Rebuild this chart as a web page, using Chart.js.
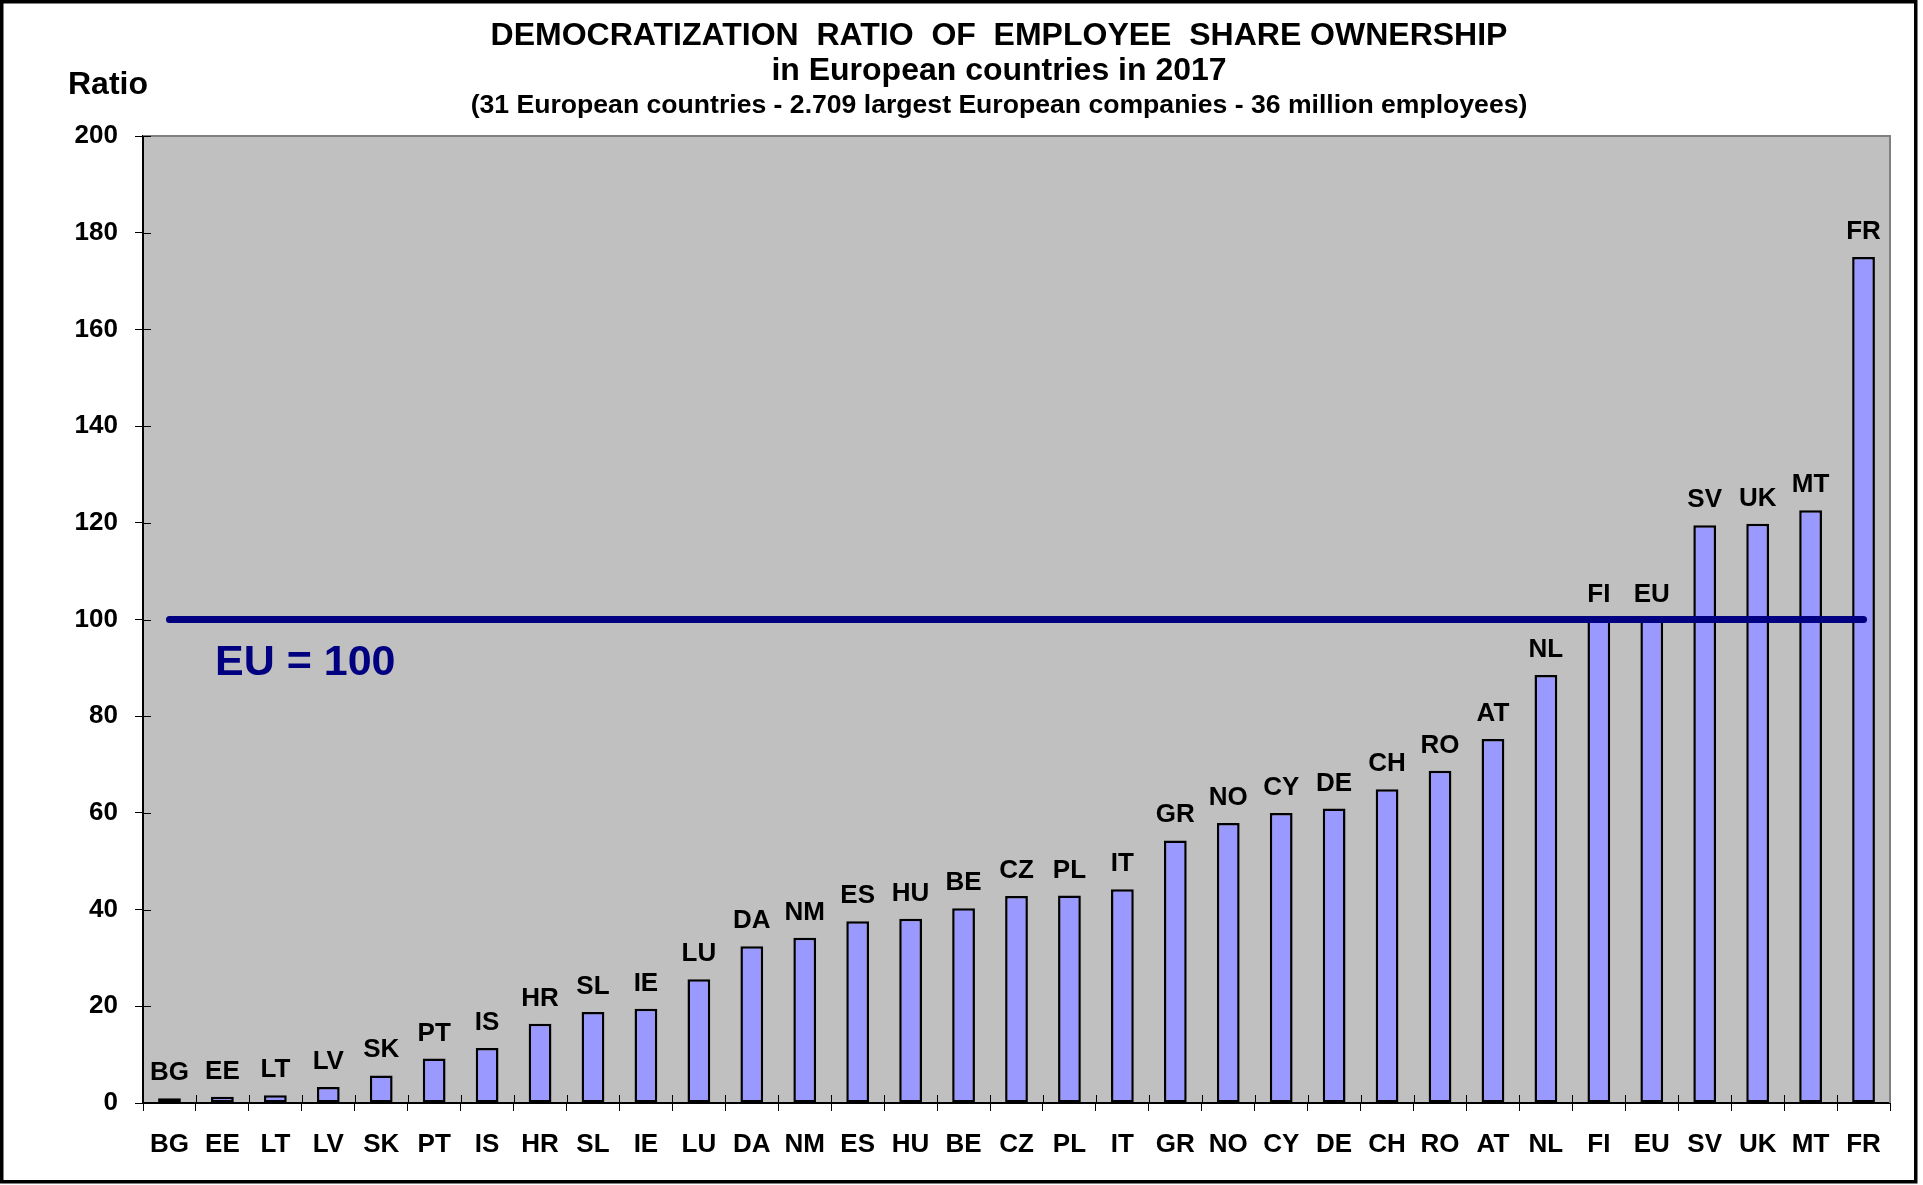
<!DOCTYPE html>
<html>
<head>
<meta charset="utf-8">
<title>Democratization ratio of employee share ownership 2017</title>
<script src="https://cdn.jsdelivr.net/npm/chart.js@4.4.1/dist/chart.umd.min.js"></script>
<style>
  html, body { margin: 0; padding: 0; background: #ffffff; overflow: hidden; }
  canvas { display: block; }
</style>
</head>
<body>
<canvas id="chart" width="1923" height="1185"></canvas>
<script>
// ---- data ----
const countries = ['BG','EE','LT','LV','SK','PT','IS','HR','SL','IE','LU','DA','NM','ES','HU','BE','CZ','PL','IT','GR','NO','CY','DE','CH','RO','AT','NL','FI','EU','SV','UK','MT','FR'];
const ratios = [1.0, 1.3, 1.6, 3.3, 5.7, 9.2, 11.4, 16.4, 18.8, 19.5, 25.6, 32.4, 34.2, 37.6, 38.1, 40.3, 42.8, 42.9, 44.2, 54.3, 57.9, 60.0, 60.9, 64.9, 68.7, 75.3, 88.5, 100, 100, 119.5, 119.8, 122.6, 175.0];
const euLevel = 100;
const yTicks = [0, 20, 40, 60, 80, 100, 120, 140, 160, 180, 200];
const titleLines = ['DEMOCRATIZATION  RATIO  OF  EMPLOYEE  SHARE OWNERSHIP', 'in European countries in 2017'];
const subtitleText = '(31 European countries - 2.709 largest European companies - 36 million employees)';
const yAxisTitle = 'Ratio';
const euLabel = 'EU = 100';

const FONT = "'Liberation Sans', Arial, Helvetica, sans-serif";

const decorPlugin = {
  id: 'decor',
  beforeDraw(chart) {
    const ctx = chart.ctx, a = chart.chartArea;
    ctx.save();
    ctx.fillStyle = '#ffffff';
    ctx.fillRect(0, 0, chart.width, chart.height);
    ctx.strokeStyle = '#000000';
    ctx.lineWidth = 3.5;
    ctx.strokeRect(1.75, 1.75, 1914, 1180);
    ctx.fillStyle = '#C0C0C0';
    ctx.fillRect(a.left, a.top, a.right - a.left, a.bottom - a.top);
    // titles
    ctx.fillStyle = '#000000';
    ctx.textAlign = 'center';
    ctx.textBaseline = 'alphabetic';
    ctx.font = 'bold 32px ' + FONT;
    ctx.fillText(titleLines[0], 999, 45);
    ctx.fillText(titleLines[1], 999, 80);
    ctx.font = 'bold 26.6px ' + FONT;
    ctx.fillText(subtitleText, 999, 113);
    ctx.textAlign = 'left';
    ctx.font = 'bold 32px ' + FONT;
    ctx.fillText(yAxisTitle, 68, 94);
    ctx.restore();
  },
  beforeDatasetsDraw(chart) {
    const ctx = chart.ctx, a = chart.chartArea;
    const xs = chart.scales.x, ys = chart.scales.y;
    ctx.save();
    // grey plot border (top / right)
    ctx.strokeStyle = '#808080';
    ctx.lineWidth = 2;
    ctx.beginPath();
    ctx.moveTo(a.left, a.top); ctx.lineTo(a.right, a.top); ctx.lineTo(a.right, a.bottom);
    ctx.stroke();
    // inner halves of tick marks
    ctx.strokeStyle = '#000000';
    ctx.lineWidth = 1;
    ctx.beginPath();
    yTicks.forEach(v => {
      const y = Math.round(ys.getPixelForValue(v)) + 0.5;
      ctx.moveTo(a.left, y); ctx.lineTo(a.left + 8, y);
    });
    for (let i = 1; i < countries.length; i++) {
      const x = Math.round((xs.getPixelForValue(i - 1) + xs.getPixelForValue(i)) / 2) + 0.5;
      ctx.moveTo(x, a.bottom); ctx.lineTo(x, a.bottom - 8);
    }
    ctx.stroke();
    ctx.restore();
  },
  afterDatasetsDraw(chart) {
    const ctx = chart.ctx;
    const meta = chart.getDatasetMeta(0);
    ctx.save();
    ctx.fillStyle = '#000000';
    ctx.font = 'bold 26px ' + FONT;
    ctx.textAlign = 'center';
    ctx.textBaseline = 'alphabetic';
    meta.data.forEach((bar, i) => {
      ctx.fillText(countries[i], bar.x, bar.y - 18);
    });
    // EU = 100 annotation
    const ys = chart.scales.y;
    ctx.fillStyle = '#000080';
    ctx.font = 'bold 43px ' + FONT;
    ctx.textAlign = 'left';
    ctx.fillText(euLabel, chart.chartArea.left + 72, ys.getPixelForValue(euLevel) + 55);
    ctx.restore();
  }
};

new Chart(document.getElementById('chart'), {
  data: {
    labels: countries,
    datasets: [
      {
        type: 'bar',
        data: ratios,
        backgroundColor: '#9999FF',
        borderColor: '#000000',
        borderWidth: 2.5,
        borderSkipped: false,
        categoryPercentage: 1.0,
        barPercentage: 0.43,
        order: 2
      },
      {
        type: 'line',
        data: countries.map(() => euLevel),
        borderColor: '#000080',
        borderWidth: 7,
        borderCapStyle: 'round',
        pointRadius: 0,
        fill: false,
        order: 1
      }
    ]
  },
  options: {
    responsive: false,
    animation: false,
    events: [],
    layout: { padding: { left: 0, top: 136, right: 33, bottom: 0 } },
    plugins: { legend: { display: false }, tooltip: { enabled: false }, title: { display: false } },
    scales: {
      x: {
        type: 'category',
        offset: true,
        grid: { display: true, drawOnChartArea: false, drawTicks: true, tickLength: 8, color: '#000000', lineWidth: 1, offset: true },
        border: { display: true, color: '#000000', width: 2 },
        ticks: { color: '#000000', font: { family: FONT, size: 26, weight: 'bold' }, padding: 18, maxRotation: 0, autoSkip: false },
        afterFit(s) { s.height = 82; }
      },
      y: {
        min: 0, max: 200,
        afterBuildTicks(s) { s.ticks = yTicks.map(v => ({ value: v })); },
        grid: { display: true, drawOnChartArea: false, drawTicks: true, tickLength: 8, color: '#000000', lineWidth: 1 },
        border: { display: true, color: '#000000', width: 2 },
        ticks: { color: '#000000', font: { family: FONT, size: 26, weight: 'bold' }, padding: 17 },
        afterFit(s) { s.width = 143; }
      }
    }
  },
  plugins: [decorPlugin]
});
</script>
</body>
</html>
